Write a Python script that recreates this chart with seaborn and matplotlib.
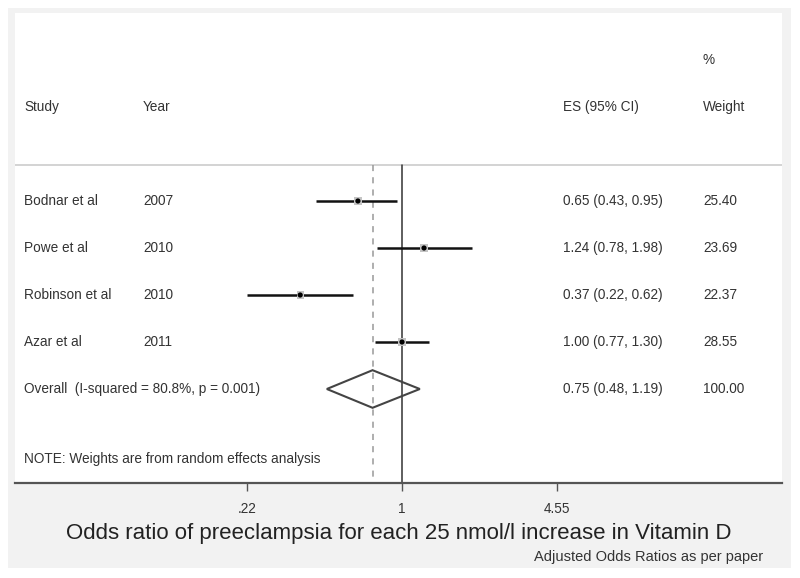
import numpy as np
import pandas as pd
import matplotlib
matplotlib.use("Agg")
import matplotlib.pyplot as plt
import matplotlib.transforms as mtransforms
from matplotlib.patches import Rectangle, Polygon
import seaborn as sns

# Datos del forest plot
estudios = ['Bodnar et al', 'Powe et al', 'Robinson et al', 'Azar et al']
anios = ['2007', '2010', '2010', '2011']
es = [0.65, 1.24, 0.37, 1.00]
ic_inf = [0.43, 0.78, 0.22, 0.77]
ic_sup = [0.95, 1.98, 0.62, 1.30]
pesos = ['25.40', '23.69', '22.37', '28.55']

global_es = 0.75
global_inf = 0.48
global_sup = 1.19
global_peso = '100.00'
global_label = 'Overall  (I-squared = 80.8%, p = 0.001)'

ticks = [0.22, 1, 4.55]
tick_labels = ['.22', '1', '4.55']

df = pd.DataFrame({'Estudio': estudios, 'Anio': anios, 'ES': es,
                   'Inf': ic_inf, 'Sup': ic_sup, 'Peso': pesos})
df['fila'] = np.arange(1, len(df) + 1)
df['lnES'] = np.log(df['ES'])

sns.set_theme(style='white')
plt.rcParams['font.family'] = ['Liberation Sans', 'DejaVu Sans']

fig = plt.figure(figsize=(8, 5.78), dpi=100)
fig.patch.set_facecolor('white')
fig.patches.append(Rectangle((8 / 800, 1 - 568 / 578), 783 / 800, 560 / 578,
                             transform=fig.transFigure, facecolor='#f2f2f2',
                             edgecolor='none', zorder=-10))
ax = fig.add_axes([15 / 800, 1 - 483 / 578, 767 / 800, 470 / 578])
ax.set_facecolor('white')

xmin = (15 - 402) / 102.4
xmax = (782 - 402) / 102.4
ax.set_xlim(xmin, xmax)
ax.set_ylim(7, -3)

texto = '#333333'
fs = 9.8

# líneas de referencia
ax.plot([xmin, xmax], [0.234, 0.234], color='#cccccc', lw=1.2)
ax.plot([0, 0], [0.234, 7], color='#333333', lw=1.1)
ax.plot([np.log(global_es)] * 2, [0.234, 7], color='#999999', lw=1.1, ls=(0, (4, 4)))

# intervalos de confianza
ax.hlines(df['fila'], np.log(df['Inf']), np.log(df['Sup']), color='#111111', lw=1.8, zorder=3)
sns.scatterplot(data=df, x='lnES', y='fila', marker='s', s=28, color='#c4c4c4',
                edgecolor='none', ax=ax, zorder=4, legend=False)
sns.scatterplot(data=df, x='lnES', y='fila', marker='o', s=14, color='black',
                edgecolor='none', ax=ax, zorder=5, legend=False)

# diamante global
yg = len(df) + 1
diamante = Polygon([[np.log(global_inf), yg], [np.log(global_es), yg - 0.4],
                    [np.log(global_sup), yg], [np.log(global_es), yg + 0.4]],
                   closed=True, fill=False, edgecolor='#444444', lw=1.5, zorder=5)
ax.add_patch(diamante)

# columnas de texto
trans = mtransforms.blended_transform_factory(ax.transAxes, ax.transData)
cx = [0.0117, 0.167, 0.7145, 0.897]
ax.text(cx[3], -2, '%', transform=trans, va='center', fontsize=fs, color=texto)
for x, t in zip(cx, ['Study', 'Year', 'ES (95% CI)', 'Weight']):
    ax.text(x, -1, t, transform=trans, va='center', fontsize=fs, color=texto)
for _, r in df.iterrows():
    ax.text(cx[0], r['fila'], r['Estudio'], transform=trans, va='center', fontsize=fs, color=texto)
    ax.text(cx[1], r['fila'], r['Anio'], transform=trans, va='center', fontsize=fs, color=texto)
    ax.text(cx[2], r['fila'], f"{r['ES']:.2f} ({r['Inf']:.2f}, {r['Sup']:.2f})",
            transform=trans, va='center', fontsize=fs, color=texto)
    ax.text(cx[3], r['fila'], r['Peso'], transform=trans, va='center', fontsize=fs, color=texto)
ax.text(cx[0], yg, global_label, transform=trans, va='center', fontsize=fs, color=texto)
ax.text(cx[2], yg, f"{global_es:.2f} ({global_inf:.2f}, {global_sup:.2f})",
        transform=trans, va='center', fontsize=fs, color=texto)
ax.text(cx[3], yg, global_peso, transform=trans, va='center', fontsize=fs, color=texto)
ax.text(cx[0], 6.5, 'NOTE: Weights are from random effects analysis', transform=trans,
        va='center', fontsize=fs, color=texto)

# eje x
for lado in ['top', 'left', 'right']:
    ax.spines[lado].set_visible(False)
ax.spines['bottom'].set_color('#555555')
ax.spines['bottom'].set_linewidth(1.6)
ax.set_yticks([])
ax.set_xticks(np.log(ticks))
ax.set_xticklabels(tick_labels, fontsize=fs, color=texto)
ax.tick_params(axis='x', bottom=True, direction='out', length=6, width=1,
               color='#555555', pad=8)
ax.set_xlabel('Odds ratio of preeclampsia for each 25 nmol/l increase in Vitamin D',
              fontsize=16, color='#222222', labelpad=5)
ax.set_ylabel('')

fig.text(763 / 800, 1 - 557 / 578, 'Adjusted Odds Ratios as per paper', ha='right',
         va='center', fontsize=10.5, color=texto)

fig.savefig('out.png', dpi=100)
